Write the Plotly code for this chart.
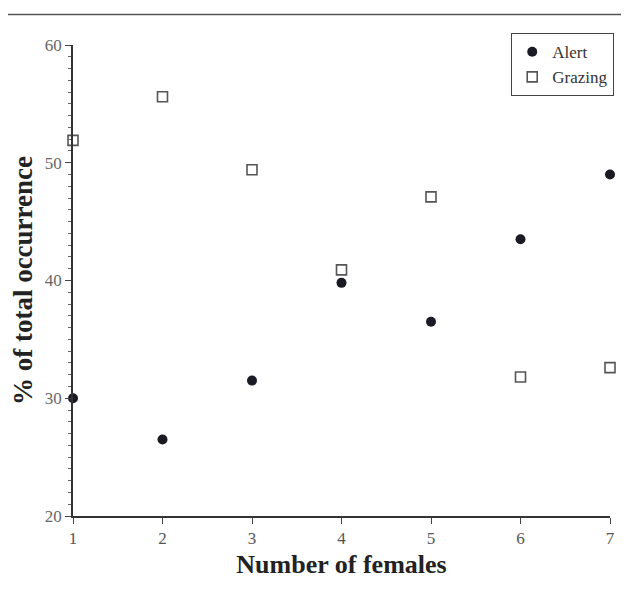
import plotly.graph_objects as go

females = [1, 2, 3, 4, 5, 6, 7]
alert = [30.0, 26.5, 31.5, 39.8, 36.5, 43.5, 49.0]
grazing = [51.9, 55.6, 49.4, 40.9, 47.1, 31.8, 32.6]

y_ticks = [20, 30, 40, 50, 60]

fig = go.Figure()
fig.add_trace(go.Scatter(
    x=females, y=alert, mode="markers", name="Alert",
    marker=dict(symbol="circle", size=10, color="#1a1a24", line=dict(width=0)),
    cliponaxis=False,
))
fig.add_trace(go.Scatter(
    x=females, y=grazing, mode="markers", name="Grazing",
    marker=dict(symbol="square-open", size=10, color="#555555", line=dict(width=1.6)),
    cliponaxis=False,
))

font = "Liberation Serif, DejaVu Serif, serif"

fig.update_layout(
    width=621, height=582,
    margin=dict(l=65, r=19, t=37, b=74, autoexpand=False),
    paper_bgcolor="white", plot_bgcolor="white",
    font=dict(family=font, color="#444444", size=14),
    showlegend=True,
    legend=dict(
        x=1.0075, y=1.0255, xanchor="right", yanchor="top",
        bordercolor="#444444", borderwidth=1.2, bgcolor="white",
        font=dict(family=font, size=17, color="#333333"),
        itemwidth=30, tracegroupgap=0,
    ),
    xaxis=dict(
        range=[1, 7], tickvals=females, ticks="outside", ticklen=6, tickwidth=1.2,
        tickcolor="#444444", showline=True, linecolor="#333333", linewidth=1.6,
        showgrid=False, zeroline=False, automargin=False,
        tickfont=dict(family=font, size=17, color="#555555"),
        title=dict(text="<b>Number of females</b>", font=dict(family=font, size=26, color="#222222"), standoff=8),
    ),
    yaxis=dict(
        range=[20, 60], tickvals=y_ticks, ticks="outside", ticklen=6, tickwidth=1.2,
        tickcolor="#444444", showline=True, linecolor="#333333", linewidth=1.6,
        showgrid=False, zeroline=False, automargin=False,
        minor=dict(dtick=1, ticks="outside", ticklen=3, tickcolor="#666666", tickwidth=1),
        tickfont=dict(family=font, size=17, color="#666666"),
        title=dict(text="<b>% of total occurrence</b>", font=dict(family=font, size=27, color="#222222"), standoff=10),
    ),
    shapes=[dict(type="line", xref="paper", yref="paper", x0=-0.14, x1=1.04,
                 y0=1.065, y1=1.065, line=dict(color="#555555", width=1.5))],
)

fig.write_html("out.html")
